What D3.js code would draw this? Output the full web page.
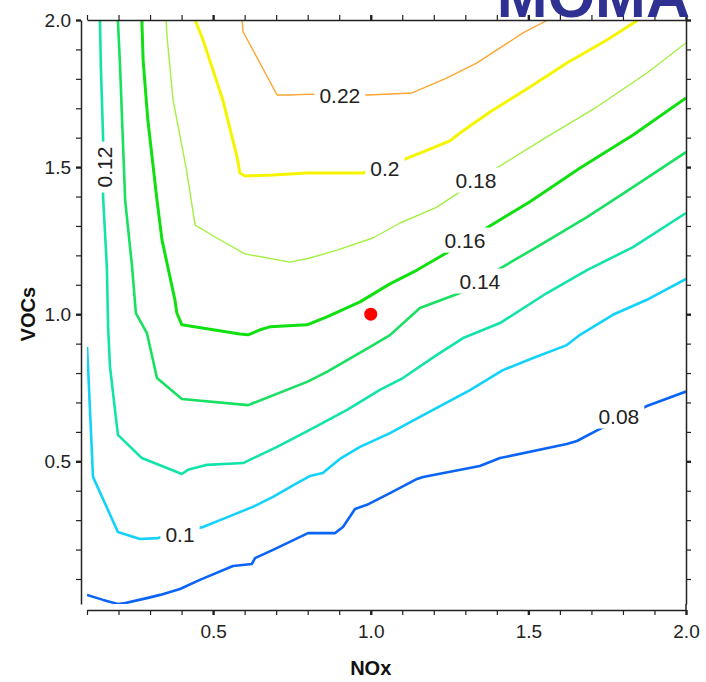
<!DOCTYPE html>
<html><head><meta charset="utf-8">
<script src="https://cdn.jsdelivr.net/npm/d3@7"></script>
<style>html,body{margin:0;padding:0;background:#fff;} svg{display:block;}</style>
</head><body>
<script>
// ---------- DATA ----------
const levels = [0.08, 0.1, 0.12, 0.14, 0.16, 0.18, 0.2, 0.22];
const levelLabels = ["0.08", "0.1", "0.12", "0.14", "0.16", "0.18", "0.2", "0.22"];

const c008 = [[0.1,0.046],[0.151,0.029],[0.198,0.015],[0.221,0.018],[0.290,0.035],[0.332,0.046],[0.395,0.066],[0.458,0.097],[0.563,0.144],[0.623,0.151],[0.633,0.171],[0.690,0.199],[0.801,0.256],[0.887,0.256],[0.912,0.277],[0.950,0.338],[0.988,0.352],[1.061,0.392],[1.147,0.440],[1.166,0.447],[1.346,0.484],[1.410,0.511],[1.622,0.559],[1.654,0.569],[1.721,0.607],[1.876,0.688],[2.0,0.737]];
const c010 = [[0.1,0.889],[0.103,0.828],[0.119,0.447],[0.198,0.260],[0.268,0.236],[0.325,0.239],[0.468,0.277],[0.522,0.300],[0.626,0.345],[0.690,0.379],[0.766,0.426],[0.807,0.450],[0.848,0.460],[0.902,0.508],[0.966,0.549],[1.061,0.596],[1.156,0.651],[1.315,0.742],[1.419,0.810],[1.515,0.851],[1.622,0.895],[1.664,0.930],[1.768,0.998],[1.876,1.049],[2.0,1.120]];
const c012 = [[0.141,2.0],[0.144,1.840],[0.151,1.602],[0.151,1.398],[0.163,1.161],[0.167,0.953],[0.173,0.821],[0.198,0.590],[0.274,0.511],[0.401,0.457],[0.420,0.471],[0.481,0.488],[0.595,0.494],[0.703,0.549],[0.817,0.613],[0.925,0.675],[1.029,0.743],[1.102,0.783],[1.210,0.862],[1.293,0.919],[1.410,0.970],[1.559,1.072],[1.686,1.150],[1.832,1.228],[2.0,1.344]];
const c014 = [[0.198,2.0],[0.205,1.840],[0.211,1.670],[0.221,1.388],[0.243,1.161],[0.255,1.004],[0.290,0.936],[0.322,0.783],[0.401,0.712],[0.611,0.691],[0.798,0.770],[0.861,0.804],[0.998,0.889],[1.061,0.929],[1.156,1.021],[1.283,1.072],[1.419,1.161],[1.537,1.235],[1.686,1.330],[1.832,1.432],[2.0,1.551]];
const c016 = [[0.274,2.0],[0.278,1.864],[0.293,1.660],[0.322,1.388],[0.338,1.252],[0.379,1.048],[0.385,1.004],[0.401,0.964],[0.585,0.933],[0.611,0.930],[0.649,0.947],[0.680,0.957],[0.798,0.964],[0.861,0.991],[0.966,1.042],[1.061,1.103],[1.147,1.150],[1.229,1.201],[1.378,1.300],[1.505,1.382],[1.664,1.497],[1.832,1.609],[2.0,1.735]];
const c018 = [[0.351,2.0],[0.354,1.942],[0.373,1.728],[0.414,1.500],[0.443,1.303],[0.512,1.259],[0.601,1.205],[0.744,1.177],[0.807,1.191],[0.893,1.218],[1.007,1.259],[1.093,1.310],[1.210,1.364],[1.267,1.405],[1.404,1.500],[1.559,1.603],[1.718,1.705],[1.876,1.820],[2.0,1.922]];
const c020 = [[0.443,2.0],[0.468,1.932],[0.531,1.728],[0.576,1.534],[0.585,1.480],[0.601,1.470],[0.690,1.473],[0.798,1.480],[0.975,1.480],[1.118,1.531],[1.166,1.552],[1.251,1.589],[1.283,1.616],[1.378,1.687],[1.505,1.772],[1.622,1.854],[1.749,1.932],[1.848,2.0]];
const c022 = [[0.592,2.0],[0.595,1.960],[0.703,1.745],[0.744,1.745],[0.814,1.748],[0.991,1.745],[1.131,1.752],[1.242,1.803],[1.337,1.854],[1.483,1.956],[1.562,2.0]];
const contours = [c008, c010, c012, c014, c016, c018, c020, c022];

// where each contour label sits (data coords) and its rotation
const labelAt = [[1.787,0.654],[0.395,0.250],[0.154,1.500],[1.346,1.113],[1.299,1.252],[1.334,1.456],[1.045,1.497],[0.902,1.745]];
const labelRotate = [0, 0, -90, 0, 0, 0, 0, 0];

const basePoint = [[1.0, 1.0]];

const tickValues = [0.1,0.2,0.3,0.4,0.5,0.6,0.7,0.8,0.9,1.0,1.1,1.2,1.3,1.4,1.5,1.6,1.7,1.8,1.9,2.0];
const majorTicks = [0.5, 1.0, 1.5, 2.0];
const majorTickLabels = ["0.5", "1.0", "1.5", "2.0"];

const xTitle = "NOx";
const yTitle = "VOCs";
const chartTitle = "MOMA";

// ---------- STYLE ----------
const lineColors = ["#0A64F5", "#12D2FA", "#12E3A8", "#18E060", "#10E010", "#A2F040", "#F5F500", "#FFA530"];
const lineWidths = [2.6, 2.6, 2.6, 2.6, 3.0, 1.4, 3.0, 1.4];

const W = 706, H = 682;
const svg = d3.select("body").append("svg").attr("width", W).attr("height", H);

const x = d3.scaleLinear([0.1, 2.0], [87, 686]);
const y = d3.scaleLinear([0.015, 2.0], [604, 20]);

const font = "'Liberation Sans', Arial, Helvetica, sans-serif";

// clip
svg.append("clipPath").attr("id", "clip").append("rect")
  .attr("x", x(0.1)).attr("y", y(2.0)).attr("width", x(2.0) - x(0.1)).attr("height", y(0.015) - y(2.0));

const lineGen = d3.line().x(d => x(d[0])).y(d => y(d[1]));
const gLines = svg.append("g").attr("clip-path", "url(#clip)");
gLines.selectAll("path").data(contours).join("path")
  .attr("d", lineGen)
  .attr("fill", "none")
  .attr("stroke", (d, i) => lineColors[i])
  .attr("stroke-width", (d, i) => lineWidths[i])
  .attr("stroke-linejoin", "round");

// labels with gaps
const gLab = svg.append("g");
levels.forEach((lv, i) => {
  const g = gLab.append("g")
    .attr("transform", `translate(${x(labelAt[i][0])},${y(labelAt[i][1])}) rotate(${labelRotate[i]})`);
  const rect = g.append("rect").attr("fill", "#fff");
  const t = g.append("text")
    .attr("text-anchor", "middle")
    .attr("dy", "0.36em")
    .attr("font-family", font)
    .attr("font-size", 21)
    .attr("fill", "#222")
    .text(levelLabels[i]);
  const bb = t.node().getBBox();
  rect.attr("x", bb.x - 5).attr("y", bb.y - 1).attr("width", bb.width + 10).attr("height", bb.height + 2);
});

// base point
svg.selectAll("circle.pt").data(basePoint).join("circle").attr("class", "pt")
  .attr("cx", d => x(d[0])).attr("cy", d => y(d[1])).attr("r", 6.5).attr("fill", "#FF0000");

// axes
const fmt = d => majorTicks.some(m => Math.abs(m - d) < 1e-9) ? majorTickLabels[majorTicks.findIndex(m => Math.abs(m - d) < 1e-9)] : "";
function styleAxis(g) {
  g.select(".domain").attr("stroke", "#222").attr("stroke-width", 1.5);
  g.selectAll(".tick line").attr("stroke", "#222")
    .attr("stroke-width", d => majorTicks.some(m => Math.abs(m - d) < 1e-9) ? 2.4 : 1.2);
  g.selectAll(".tick text").attr("font-family", font).attr("font-size", 19).attr("fill", "#222");
}
const gB = svg.append("g").attr("transform", "translate(0,610)")
  .call(d3.axisBottom(x).tickValues(tickValues).tickSize(5).tickSizeOuter(0).tickPadding(10).tickFormat(fmt));
styleAxis(gB);
const gT = svg.append("g").attr("transform", `translate(0,${y(2.0)})`)
  .call(d3.axisTop(x).tickValues(tickValues).tickSize(5).tickSizeOuter(0).tickFormat(""));
styleAxis(gT);
const gL = svg.append("g").attr("transform", "translate(81,0)")
  .call(d3.axisLeft(y).tickValues(tickValues).tickSize(5).tickSizeOuter(0).tickPadding(5).tickFormat(fmt));
styleAxis(gL);
const gR = svg.append("g").attr("transform", "translate(686,0)")
  .call(d3.axisRight(y).tickValues(tickValues).tickSize(5).tickSizeOuter(0).tickFormat(""));
styleAxis(gR);
svg.append("line").attr("x1", 686).attr("x2", 686).attr("y1", y(0.015)).attr("y2", 611)
  .attr("stroke", "#222").attr("stroke-width", 1.5);

// titles
svg.append("text").attr("x", x(1.0)).attr("y", 675).attr("text-anchor", "middle")
  .attr("font-family", font).attr("font-weight", "bold").attr("font-size", 20).attr("fill", "#111").text(xTitle);
svg.append("text").attr("transform", `translate(35,${y(1.0)}) rotate(-90)`).attr("text-anchor", "middle")
  .attr("font-family", font).attr("font-weight", "bold").attr("font-size", 20).attr("fill", "#111").text(yTitle);
svg.append("text").attr("x", 690).attr("y", 17).attr("text-anchor", "end")
  .attr("font-family", font).attr("font-weight", "bold").attr("font-size", 61).attr("fill", "#2E3192").text(chartTitle);
</script>
</body></html>
